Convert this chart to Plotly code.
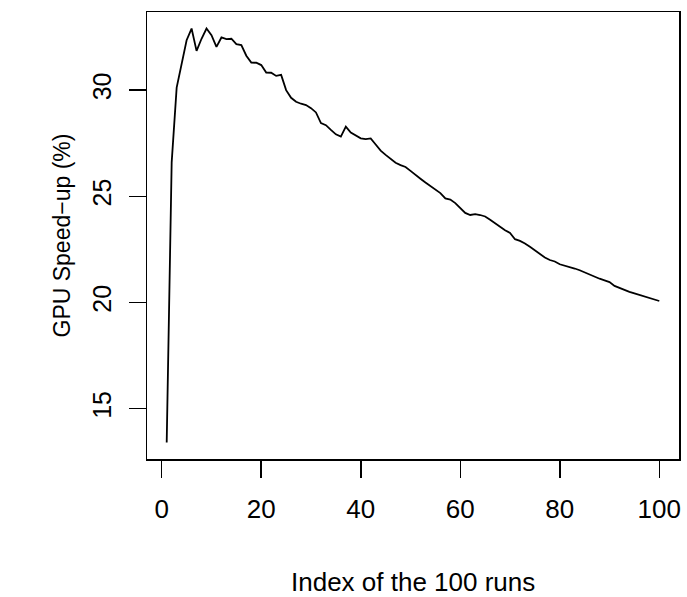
import plotly.graph_objects as go

runs = list(range(1, 101))
speedup = [
    13.41, 26.6, 30.12, 31.3, 32.35, 32.9, 31.85, 32.42, 32.9, 32.59,
    32.04, 32.48, 32.4, 32.42, 32.17, 32.12, 31.62, 31.3, 31.29, 31.18,
    30.83, 30.82, 30.67, 30.72, 30.0, 29.64, 29.45, 29.36, 29.3, 29.15,
    28.95, 28.45, 28.35, 28.13, 27.92, 27.81, 28.28, 28.0, 27.87, 27.73,
    27.69, 27.73, 27.44, 27.15, 26.95, 26.77, 26.58, 26.47, 26.38, 26.2,
    26.0, 25.83, 25.65, 25.48, 25.3, 25.15, 24.9, 24.85, 24.68, 24.45,
    24.22, 24.12, 24.16, 24.12, 24.05, 23.9, 23.72, 23.56, 23.4, 23.28,
    22.98, 22.9, 22.78, 22.62, 22.45, 22.3, 22.12, 22.0, 21.93, 21.8,
    21.74, 21.68, 21.6, 21.52, 21.42, 21.3, 21.2, 21.12, 21.04, 20.96,
    20.78, 20.68, 20.59, 20.5, 20.43, 20.36, 20.27, 20.2, 20.13, 20.07,
]
x_ticks = [0, 20, 40, 60, 80, 100]
y_ticks = [15, 20, 25, 30]
x_title = "Index of the 100 runs"
y_title = "GPU Speed\u2212up (%)"

def ext(vals, f=0.04):
    lo, hi = min(vals), max(vals)
    d = (hi - lo) * f
    return [lo - d, hi + d]

FONT = "Liberation Sans, Arial, Helvetica, sans-serif"
XTICK_FS = 26
YTICK_FS = 25
XTITLE_FS = 26
YTITLE_FS = 23

fig = go.Figure()
fig.add_trace(go.Scatter(x=runs, y=speedup, mode="lines",
                         line=dict(color="black", width=1.8),
                         showlegend=False, hoverinfo="skip"))

fig.update_layout(
    width=687, height=597,
    margin=dict(l=147, r=6, t=12, b=138),
    paper_bgcolor="white", plot_bgcolor="white",
    font=dict(family=FONT, size=YTICK_FS, color="black"),
    xaxis=dict(range=ext(runs), tickvals=x_ticks, ticks="outside", ticklen=17,
               tickwidth=1.5, tickcolor="black", showline=True, mirror=True,
               linecolor="black", linewidth=1.5, showgrid=False, zeroline=False,
               ticklabelstandoff=9, tickfont=dict(size=XTICK_FS)),
    yaxis=dict(range=ext(speedup), tickvals=y_ticks, ticks="outside", ticklen=17,
               tickwidth=1.5, tickcolor="black", showline=True, mirror=True,
               linecolor="black", linewidth=1.5, showgrid=False, zeroline=False,
               tickangle=-90, ticklabelstandoff=8, tickfont=dict(size=YTICK_FS)),
    annotations=[
        dict(text=x_title, xref="paper", yref="paper", x=0.5, y=0,
             xanchor="center", yanchor="middle", yshift=-123, showarrow=False,
             font=dict(size=XTITLE_FS)),
        dict(text=y_title, xref="paper", yref="paper", x=0, y=0.5,
             xanchor="center", yanchor="middle", xshift=-86, textangle=-90,
             showarrow=False, font=dict(size=YTITLE_FS)),
    ],
)

fig.write_html("out.html",
               config={"displayModeBar": False, "staticPlot": True},
               post_script="document.body.style.margin='0';document.body.style.overflow='hidden';")
